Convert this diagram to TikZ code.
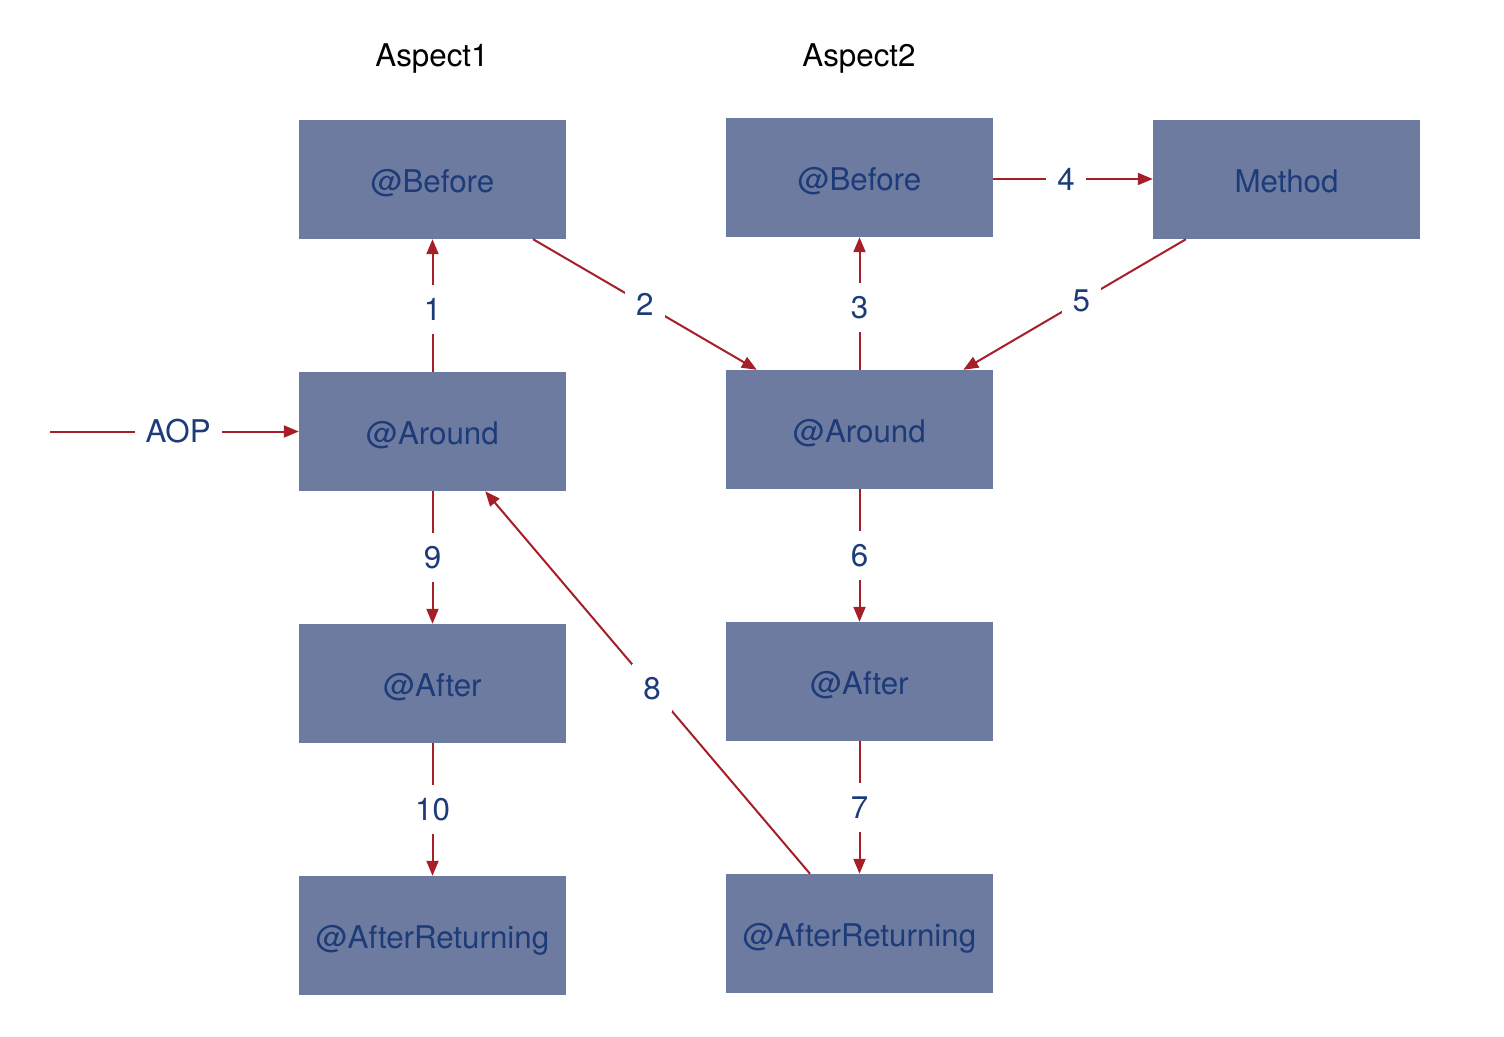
\documentclass[tikz,border=0pt]{standalone}
\usepackage{fontspec}
\setmainfont{TeX Gyre Heros}
\usetikzlibrary{arrows.meta,calc}
\definecolor{boxfill}{HTML}{6D7BA0}
\definecolor{boxtext}{HTML}{1C3B78}
\definecolor{arrred}{HTML}{A51E28}
\begin{document}
\begin{tikzpicture}[x=1pt,y=-1pt,
  box/.style={fill=boxfill,minimum width=267pt,minimum height=119pt,inner sep=0pt,
    text=boxtext,font=\fontsize{31.3}{37}\selectfont,text height=27pt,text depth=2pt},
  head/.style={text=black,font=\fontsize{31.3}{37}\selectfont,text height=22.5pt,text depth=0pt},
  arr/.style={draw=arrred,line width=2pt,-{Triangle[length=15pt,width=12pt]}},
  lbl/.style={fill=white,text=boxtext,font=\fontsize{31.3}{37}\selectfont,text height=22.5pt,text depth=0pt,inner xsep=11pt,inner ysep=13pt}]
\useasboundingbox (0,0) rectangle (1504,1036);
\node[head] (h1) at (432,55) {Aspect1};
\node[head] (h2) at (859,55) {Aspect2};
\node[box] (b1) at (432.5,179.5) {@Before};
\node[box] (a1) at (432.5,431.5) {@Around};
\node[box] (f1) at (432.5,683.5) {@After};
\node[box] (r1) at (432.5,935.5) {@AfterReturning};
\node[box] (b2) at (859.5,177.5) {@Before};
\node[box] (a2) at (859.5,429.5) {@Around};
\node[box] (f2) at (859.5,681.5) {@After};
\node[box] (r2) at (859.5,933.5) {@AfterReturning};
\node[box] (m) at (1286.5,179.5) {Method};
\coordinate (start) at (50,431.5);
\draw[arr] (start) -- node[lbl,pos=0.515]{AOP} (a1.west);
\draw[arr] (a1.north) -- node[lbl,pos=0.47]{1} (b1.south);
\draw[arr] ($(b1.south west)!0.876!(b1.south east)$) -- node[lbl]{2} ($(a2.north west)!0.116!(a2.north east)$);
\draw[arr] (a2.north) -- node[lbl,pos=0.47]{3} (b2.south);
\draw[arr] ($(b2.east)+(0,1.5)$) -- node[lbl,pos=0.456]{4} ($(b2.east -| m.west)+(0,1.5)$);
\draw[arr] ($(m.south west)!0.124!(m.south east)$) -- node[lbl,pos=0.47]{5} ($(a2.north west)!0.888!(a2.north east)$);
\draw[arr] (a2.south) -- node[lbl]{6} (f2.north);
\draw[arr] (f2.south) -- node[lbl]{7} (r2.north);
\draw[arr] ($(r2.north west)!0.315!(r2.north east)$) -- node[lbl,pos=0.486]{8} ($(a1.south west)!0.697!(a1.south east)$);
\draw[arr] (a1.south) -- node[lbl]{9} (f1.north);
\draw[arr] (f1.south) -- node[lbl]{10} (r1.north);
\end{tikzpicture}
\end{document}
